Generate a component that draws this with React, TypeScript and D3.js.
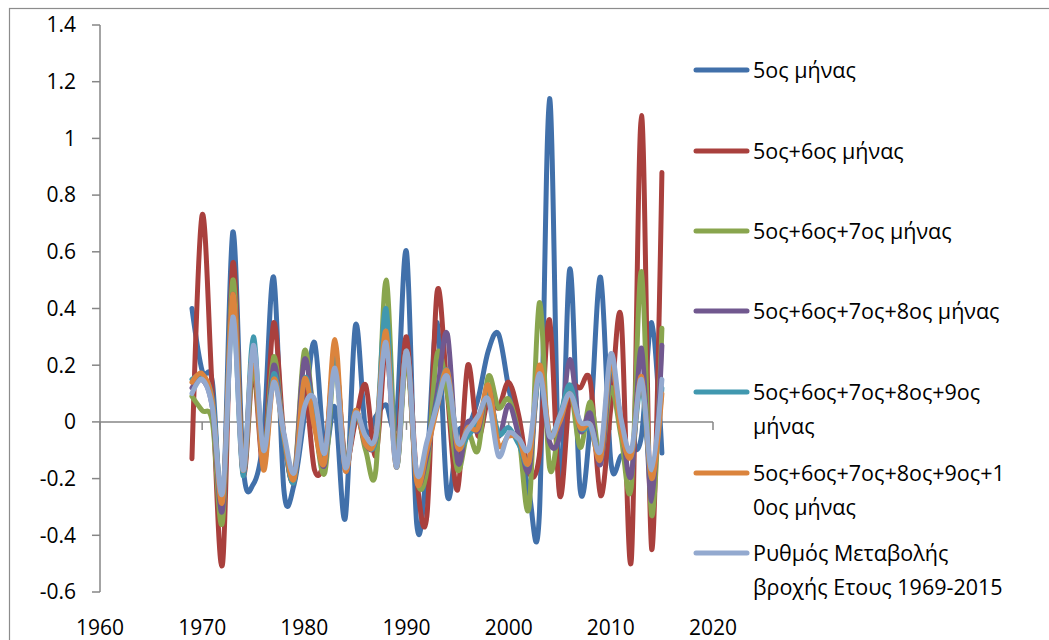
import { useEffect, useRef } from "react";
import * as d3 from "d3";

// Years 1969-2015
const YEARS = d3.range(1969, 2016);

const SERIES_NAMES = [
	"5ος μήνας",
	"5ος+6ος μήνας",
	"5ος+6ος+7ος μήνας",
	"5ος+6ος+7ος+8ος μήνας",
	"5ος+6ος+7ος+8ος+9ος μήνας",
	"5ος+6ος+7ος+8ος+9ος+10ος μήνας",
	"Ρυθμός Μεταβολής βροχής Ετους 1969-2015",
];

// legend text, pre-wrapped like the original
const LEGEND_LINES = [
	["5ος μήνας"],
	["5ος+6ος μήνας"],
	["5ος+6ος+7ος μήνας"],
	["5ος+6ος+7ος+8ος μήνας"],
	["5ος+6ος+7ος+8ος+9ος", "μήνας"],
	["5ος+6ος+7ος+8ος+9ος+1", "0ος μήνας"],
	["Ρυθμός Μεταβολής", "βροχής Ετους 1969-2015"],
];

const COLORS = ["#4170aa", "#a9403d", "#89a54e", "#71588f", "#4198af", "#db843d", "#93a9cf"];

const m5 = [
	0.40, 0.18, 0.14, -0.30, 0.67, -0.15, -0.22, -0.05, 0.51, -0.24,
	-0.22, 0.02, 0.28, -0.10, 0.05, -0.34, 0.34, -0.03, 0.02, 0.06,
	0.00, 0.60, -0.36, -0.15, 0.35, -0.26, -0.04, -0.02, 0.08, 0.25,
	0.31, 0.12, -0.05, -0.25, -0.33, 1.14, -0.25, 0.54, -0.24, 0.00,
	0.51, -0.14, -0.12, -0.10, -0.05, 0.35, -0.11,
];

const m56 = [
	-0.13, 0.73, 0.10, -0.50, 0.56, -0.18, 0.18, -0.15, 0.35, -0.05,
	-0.21, 0.12, -0.17, -0.12, 0.22, -0.13, 0.00, 0.13, -0.12, 0.25,
	-0.10, 0.30, -0.20, -0.33, 0.46, 0.10, -0.24, 0.20, -0.05, 0.08,
	0.05, 0.14, 0.02, -0.18, -0.12, 0.36, -0.26, 0.10, 0.12, 0.14,
	-0.26, 0.05, 0.37, -0.49, 1.08, -0.45, 0.88,
];

const m567 = [
	0.09, 0.04, 0.00, -0.35, 0.50, -0.17, 0.20, -0.13, 0.23, -0.05,
	-0.20, 0.25, 0.00, -0.18, 0.20, -0.16, 0.04, -0.10, -0.17, 0.50,
	-0.15, 0.22, -0.20, -0.17, 0.24, 0.10, -0.17, -0.04, -0.10, 0.16,
	0.05, 0.08, -0.05, -0.30, 0.42, -0.16, 0.00, 0.12, -0.09, 0.07,
	-0.13, 0.12, -0.05, -0.23, 0.53, -0.33, 0.33,
];

const m5678 = [
	0.12, 0.15, 0.05, -0.31, 0.45, -0.18, 0.25, -0.15, 0.20, -0.05,
	-0.20, 0.22, 0.00, -0.15, 0.24, -0.17, 0.03, -0.08, -0.06, 0.30,
	-0.15, 0.25, -0.20, -0.12, 0.10, 0.31, -0.14, 0.00, -0.03, 0.12,
	-0.05, 0.06, -0.05, -0.17, 0.18, -0.07, -0.05, 0.22, -0.03, 0.03,
	-0.15, 0.18, 0.00, -0.19, 0.26, -0.28, 0.27,
];

const m56789 = [
	0.15, 0.16, 0.08, -0.27, 0.40, -0.19, 0.30, -0.15, 0.17, -0.06,
	-0.21, 0.15, 0.02, -0.14, 0.23, -0.15, 0.02, -0.06, -0.06, 0.40,
	-0.16, 0.25, -0.20, -0.09, 0.07, 0.18, -0.08, -0.05, 0.00, 0.10,
	-0.04, -0.02, -0.08, -0.14, 0.17, -0.04, 0.02, 0.13, -0.02, -0.02,
	-0.12, 0.20, 0.00, -0.12, 0.13, -0.20, 0.12,
];

const m5to10 = [
	0.14, 0.17, 0.07, -0.28, 0.45, -0.17, 0.25, -0.17, 0.15, -0.05,
	-0.20, 0.15, -0.02, -0.14, 0.29, -0.17, 0.04, -0.08, -0.05, 0.32,
	-0.16, 0.25, -0.21, -0.10, 0.05, 0.18, -0.09, -0.02, -0.02, 0.13,
	-0.08, -0.05, -0.06, -0.14, 0.20, -0.04, 0.00, 0.10, -0.02, -0.01,
	-0.13, 0.22, -0.03, -0.12, 0.16, -0.20, 0.10,
];

const annual = [
	0.10, 0.15, 0.05, -0.25, 0.37, -0.17, 0.27, -0.10, 0.14, -0.04,
	-0.18, 0.05, 0.08, -0.11, 0.19, -0.16, 0.03, -0.05, -0.05, 0.28,
	-0.16, 0.25, -0.18, -0.07, 0.06, 0.16, -0.07, -0.03, 0.02, 0.08,
	-0.12, -0.04, -0.06, -0.09, 0.17, -0.05, 0.02, 0.10, 0.00, -0.01,
	-0.10, 0.24, 0.01, -0.10, 0.15, -0.17, 0.15,
];

const SERIES = [m5, m56, m567, m5678, m56789, m5to10, annual];

const Y_TICKS = [1.4, 1.2, 1, 0.8, 0.6, 0.4, 0.2, 0, -0.2, -0.4, -0.6];
const X_TICKS = [1960, 1970, 1980, 1990, 2000, 2010, 2020];

const FONT = "'Open Sans', 'Noto Sans', sans-serif";

export default function App() {
	const ref = useRef<SVGSVGElement>(null);

	useEffect(() => {
		const svg = d3.select(ref.current);
		svg.selectAll("*").remove();

		// chart area border (runs off the bottom/right of the picture)
		svg.append("rect")
			.attr("x", 9.5)
			.attr("y", 8.5)
			.attr("width", 1100)
			.attr("height", 700)
			.attr("fill", "#fff")
			.attr("stroke", "#8c8c8c")
			.attr("stroke-width", 1.2);

		const x = d3.scaleLinear().domain([1960, 2020]).range([100, 713]);
		const y = d3.scaleLinear().domain([-0.6, 1.4]).range([592, 25]);

		const axisColor = "#868686";

		// Y axis
		svg.append("line")
			.attr("x1", 100).attr("x2", 100)
			.attr("y1", y(1.4)).attr("y2", y(-0.6))
			.attr("stroke", axisColor).attr("stroke-width", 1.5);

		Y_TICKS.forEach(t => {
			svg.append("line")
				.attr("x1", 92).attr("x2", 100)
				.attr("y1", y(t)).attr("y2", y(t))
				.attr("stroke", axisColor).attr("stroke-width", 1.5);
			svg.append("text")
				.attr("x", 76)
				.attr("y", y(t))
				.attr("dy", "0.35em")
				.attr("text-anchor", "end")
				.attr("font-family", FONT)
				.attr("font-size", 21)
				.attr("fill", "#000")
				.text(String(t)); // plain hyphen minus, like Excel
		});

		// X axis crosses at 0
		svg.append("line")
			.attr("x1", x(1960)).attr("x2", x(2020))
			.attr("y1", y(0)).attr("y2", y(0))
			.attr("stroke", axisColor).attr("stroke-width", 1.5);

		X_TICKS.forEach(t => {
			svg.append("line")
				.attr("x1", x(t)).attr("x2", x(t))
				.attr("y1", y(0)).attr("y2", y(0) + 8)
				.attr("stroke", axisColor).attr("stroke-width", 1.5);
			svg.append("text")
				.attr("x", x(t))
				.attr("y", 628)
				.attr("dy", "0.35em")
				.attr("text-anchor", "middle")
				.attr("font-family", FONT)
				.attr("font-size", 21)
				.attr("fill", "#000")
				.text(t);
		});

		// smoothed lines, Excel style
		const line = d3.line<number>()
			.x((_, i) => x(YEARS[i]))
			.y(d => y(d))
			.curve(d3.curveCatmullRom.alpha(0));

		SERIES.forEach((s, i) => {
			svg.append("path")
				.datum(s)
				.attr("d", line)
				.attr("fill", "none")
				.attr("stroke", COLORS[i])
				.attr("stroke-width", 5)
				.attr("stroke-linejoin", "round")
				.attr("stroke-linecap", "round");
		});

		// Legend
		const legendY = [70, 151, 231, 311, 392, 473, 553];
		LEGEND_LINES.forEach((lines, i) => {
			const g = svg.append("g").attr("transform", `translate(0, ${legendY[i]})`);
			g.append("line")
				.attr("x1", 696).attr("x2", 747)
				.attr("y1", 0).attr("y2", 0)
				.attr("stroke", COLORS[i])
				.attr("stroke-width", 5)
				.attr("stroke-linecap", "round");
			lines.forEach((txt, j) => {
				g.append("text")
					.attr("x", 753)
					.attr("y", j * 34)
					.attr("dy", "0.35em")
					.attr("font-family", FONT)
					.attr("font-size", 21.5)
					.attr("fill", "#000")
					.text(txt);
			});
		});
	}, []);

	return (
		<svg
			ref={ref}
			width={1049}
			height={640}
			style={{ position: "absolute", left: 0, top: 0 }}
		>
			<title>{SERIES_NAMES.join(", ")}</title>
		</svg>
	);
}
